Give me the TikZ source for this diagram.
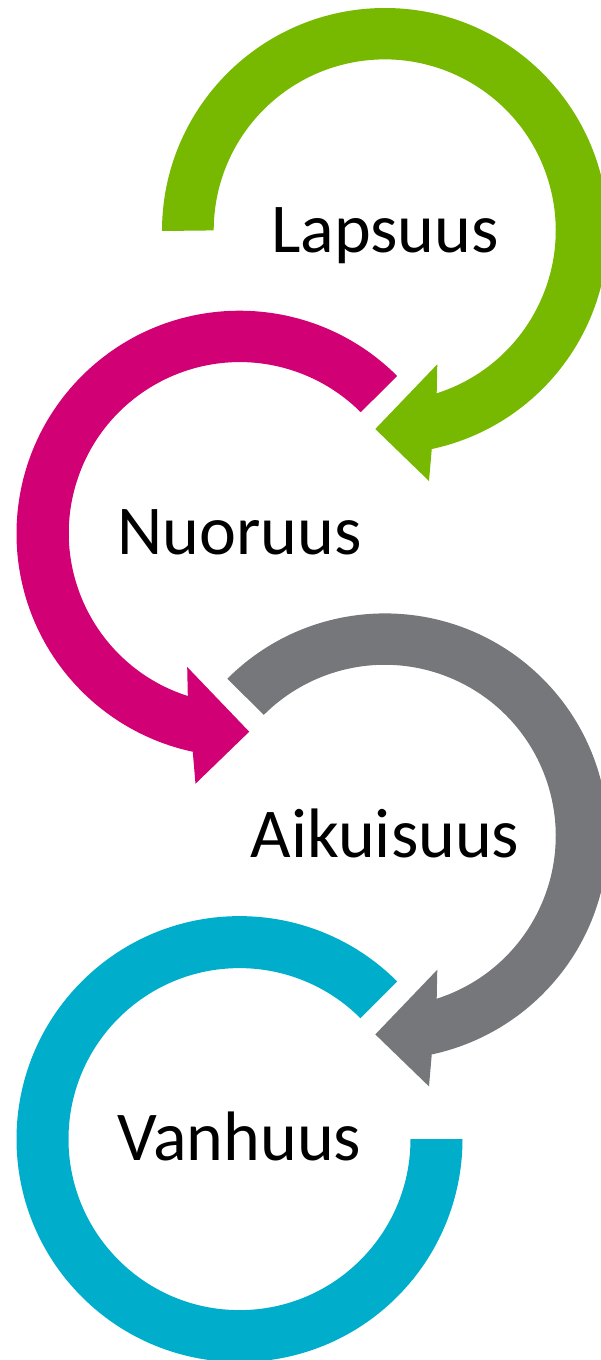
\documentclass[tikz,border=0pt]{standalone}
\usepackage{fontspec}
\setmainfont{Carlito}
\definecolor{cgreen}{RGB}{118,185,0}
\definecolor{cmagenta}{RGB}{209,0,116}
\definecolor{cgray}{RGB}{118,119,123}
\definecolor{ccyan}{RGB}{0,174,203}
\begin{document}
\begin{tikzpicture}[x=1pt,y=1pt,
    stage/.style={anchor=base,inner sep=0pt,font=\fontsize{70}{84}\selectfont}]
    \def\x{145.5}
    \def\y{-302.7}
    \useasboundingbox (0,0) rectangle (600,-1360);
    \coordinate (R0_1) at (239.5+1*\x, -231+0*\y);
    \coordinate (R1_0) at (239.5+0*\x, -231+1*\y);
    \coordinate (R2_1) at (239.5+1*\x, -231+2*\y);
    \coordinate (R3_0) at (239.5+0*\x, -231+3*\y);
    \fill[cgreen,shift={(R0_1)}] (180:223) arc[start angle=180,end angle=-77.9,radius=223]
      -- (44,-250) -- (-9.7,-198) -- (52.3,-133.3) -- (51.7,-162.3)
      arc[start angle=-72.3,end angle=180,radius=171] -- cycle;
    \fill[cmagenta,shift={(R1_0)}] (45:223) arc[start angle=45,end angle=257.9,radius=223]
      -- (-44,-250) -- (9.7,-198) -- (-52.3,-133.3) -- (-51.7,-162.3)
      arc[start angle=252.3,end angle=45,radius=171] -- cycle;
    \fill[cgray,shift={(R2_1)}] (135:223) arc[start angle=135,end angle=-77.9,radius=223]
      -- (44,-250) -- (-9.7,-198) -- (52.3,-133.3) -- (51.7,-162.3)
      arc[start angle=-72.3,end angle=135,radius=171] -- cycle;
    \fill[ccyan,shift={(R3_0)}] (45:223) arc[start angle=45,end angle=360,radius=223]
      -- (0:171) arc[start angle=360,end angle=45,radius=171] -- cycle;
    \node[stage] (A0_1) at ([yshift=-21pt]R0_1) {Lapsuus};
    \node[stage] (A1_0) at ([yshift=-21pt]R1_0) {Nuoruus};
    \node[stage] (A2_1) at ([yshift=-21pt]R2_1) {Aikuisuus};
    \node[stage] (A3_0) at ([yshift=-21pt]R3_0) {Vanhuus};
  \end{tikzpicture}
\end{document}
